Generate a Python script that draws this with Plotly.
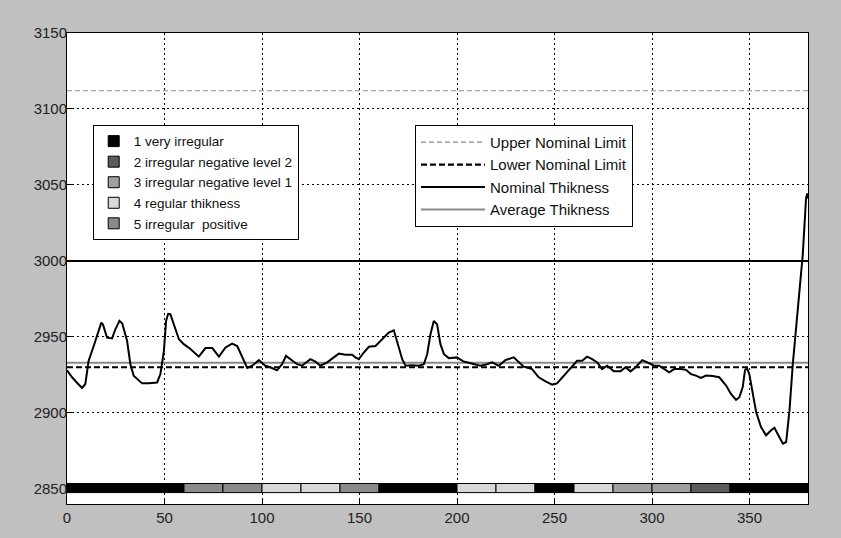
import plotly.graph_objects as go

# ---------------- data ----------------
X_RANGE = [0, 380]

pos = [0, 2.6, 5, 7.7, 9.4, 11.1, 13.7, 16.3, 17.6, 18.5, 20.5, 23.1, 24.8, 26.9, 28.3,
       30.8, 32.5, 34.2, 38.5, 42, 46.2, 47.9, 49.7, 50.8, 51.9, 53, 54.8, 57.4, 59.9,
       63.3, 67.6, 71, 74.5, 77.9, 81.3, 84.7, 87.3, 89.9, 92.4, 95, 98.4, 101.7, 104.3,
       107.7, 110.3, 112.3, 114.5, 118, 120.5, 124.8, 127.4, 129.9, 133.4, 136.8, 139.4,
       142.8, 146.2, 147.9, 149.6, 152.2, 154.8, 158.2, 161.6, 165, 167.6, 169.3, 171.9,
       173.6, 177, 180.5, 183, 184.7, 186.4, 188.1, 189.8, 191.5, 193.3, 195.8, 200,
       203.4, 207.7, 212, 215.4, 218, 221.4, 224.8, 229.1, 230.8, 234.2, 238.5, 241.9,
       245.4, 248.8, 251.3, 254.8, 258.2, 261.6, 264.2, 266.7, 269.3, 271.9, 274.4, 277,
       280.4, 283.9, 286.4, 289, 291.6, 295, 297.6, 301.1, 303.7, 306.3, 308.8, 311.4,
       314.8, 317.4, 320, 322.5, 325.1, 327.7, 331.1, 334.5, 338, 340.5, 343.1, 344.8,
       346.5, 347.7, 348.7, 349.9, 351.6, 353.4, 355.9, 358.5, 361.1, 362.8, 364.8, 367.1,
       368.8, 370.5, 372.2, 374.8, 377.3, 379, 379.6, 380]

thickness = [2928, 2923.4, 2920, 2916.4, 2919, 2934.3, 2944, 2954, 2959.4, 2958, 2949.5,
             2949, 2955, 2960.5, 2959, 2947.4, 2932, 2924.5, 2919.4, 2919.4, 2920, 2925.5,
             2940.8, 2960.5, 2965.2, 2965, 2958.2, 2948.4, 2945.2, 2942, 2937, 2942.6,
             2942.6, 2937, 2943, 2945.6, 2944, 2936.5, 2929.5, 2931, 2934.7, 2931, 2930,
             2928, 2932, 2937.5, 2935.3, 2932, 2931, 2935.3, 2933.8, 2931, 2933.2, 2936.5,
             2939, 2938.2, 2938.2, 2936.5, 2935.3, 2939.7, 2943.5, 2944, 2948.4, 2952.8,
             2954.3, 2947.4, 2935.3, 2931, 2931.4, 2931, 2932, 2938.6, 2951.7, 2960.5,
             2958.2, 2945.2, 2938.6, 2936, 2936.5, 2933.8, 2932.5, 2931, 2932, 2933.2,
             2931, 2934.7, 2936.5, 2934.3, 2930.4, 2928.8, 2923.4, 2920.7, 2918.6, 2919.4,
             2924.5, 2930, 2934.3, 2934.3, 2937, 2935.3, 2933.2, 2928.8, 2931, 2927.3,
             2927.3, 2930, 2927.3, 2930, 2934.7, 2933.2, 2931, 2931, 2928.8, 2926.6,
             2928.8, 2928.8, 2928.3, 2925.5, 2924.5, 2923, 2924.5, 2924.2, 2923.4, 2918,
             2912.4, 2908.5, 2910.3, 2916.8, 2928.1, 2929.5, 2925.5, 2912.4, 2900.5,
             2890.6, 2885.2, 2888.5, 2890.2, 2885.2, 2879.7, 2880.8, 2901.6, 2932, 2967,
             3004, 3041.2, 3044.4, 3041]

upper_limit = 3112
lower_limit = 2930
nominal = 3000
average = 2933

# classification strip
seg_start = [0, 60, 80, 100, 120, 140, 160, 200, 220, 240, 260, 280, 300, 320, 340]
seg_end = [60, 80, 100, 120, 140, 160, 200, 220, 240, 260, 280, 300, 320, 340, 380]
seg_class = [1, 5, 5, 4, 4, 5, 1, 4, 4, 1, 4, 3, 3, 2, 1]
strip_level = 2850.5

class_names = ["1 very irregular", "2 irregular negative level 2",
               "3 irregular negative level 1", "4 regular thikness",
               "5 irregular  positive"]
class_colors = ["#000000", "#5a5a5a", "#a0a0a0", "#d8d8d8", "#8a8a8a"]

x_ticks = [0, 50, 100, 150, 200, 250, 300, 350]
y_ticks = [2850, 2900, 2950, 3000, 3050, 3100, 3150]
Y_RANGE = [2840, 3150]

FONT = "Liberation Sans, Arial, sans-serif"

# ---------------- figure ----------------
fig = go.Figure()

# strip
fig.add_trace(go.Bar(
    orientation="h",
    y=[strip_level] * len(seg_start),
    base=seg_start,
    x=[e - s for s, e in zip(seg_start, seg_end)],
    width=6,
    marker=dict(color=[class_colors[c - 1] for c in seg_class],
                line=dict(color="#000000", width=1)),
    showlegend=False, hoverinfo="skip",
))

# reference lines
fig.add_trace(go.Scatter(x=X_RANGE, y=[upper_limit] * 2, mode="lines",
                         line=dict(color="#8c8c8c", width=1.2, dash="5px,3px"),
                         name="Upper Nominal Limit", legend="legend2"))
fig.add_trace(go.Scatter(x=X_RANGE, y=[lower_limit] * 2, mode="lines",
                         line=dict(color="#000000", width=2.2, dash="6px,3px"),
                         name="Lower Nominal Limit", legend="legend2"))
fig.add_trace(go.Scatter(x=X_RANGE, y=[nominal] * 2, mode="lines",
                         line=dict(color="#000000", width=2),
                         name="Nominal Thikness", legend="legend2"))
fig.add_trace(go.Scatter(x=X_RANGE, y=[average] * 2, mode="lines",
                         line=dict(color="#8a8a8a", width=2),
                         name="Average Thikness", legend="legend2"))

# measured curve
fig.add_trace(go.Scatter(x=pos, y=thickness, mode="lines",
                         line=dict(color="#000000", width=2),
                         showlegend=False, hoverinfo="skip"))

# class legend entries
for name, col in zip(class_names, class_colors):
    fig.add_trace(go.Scatter(x=[None], y=[None], mode="markers", name=name,
                             marker=dict(symbol="square", size=11, color=col,
                                         line=dict(color="#000000", width=1)),
                             legend="legend"))

axis_common = dict(
    showgrid=True, gridcolor="#000000", gridwidth=1, griddash="2px,3px",
    showline=True, linecolor="#000000", linewidth=1, mirror=True,
    ticks="inside", ticklen=5, tickcolor="#000000",
    tickfont=dict(family=FONT, size=15, color="#222222"),
    zeroline=False,
)

fig.update_xaxes(range=X_RANGE, tickvals=x_ticks, **axis_common)
fig.update_yaxes(range=Y_RANGE, tickvals=y_ticks, ticklabelstandoff=-4, **axis_common)

fig.update_layout(
    width=841, height=538,
    margin=dict(l=67, r=33, t=33, b=29),
    paper_bgcolor="#c0c0c0", plot_bgcolor="#ffffff",
    barmode="overlay",
    legend=dict(x=0.0347, y=0.805, xanchor="left", yanchor="top",
                bgcolor="#ffffff", bordercolor="#000000", borderwidth=1,
                font=dict(family=FONT, size=13.5, color="#111111"),
                itemsizing="trace"),
    legend2=dict(x=0.4696, y=0.805, xanchor="left", yanchor="top",
                 bgcolor="#ffffff", bordercolor="#000000", borderwidth=1,
                 font=dict(family=FONT, size=15, color="#111111"),
                 itemwidth=64),
    showlegend=True,
)

fig.write_html("out.html", config={"displayModeBar": False},
               post_script="document.body.style.margin='0';document.body.style.overflow='hidden';")
